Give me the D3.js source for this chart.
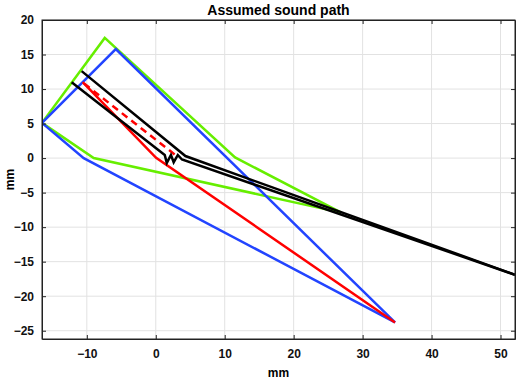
<!DOCTYPE html>
<html>
<head>
<meta charset="utf-8">
<script src="https://cdn.jsdelivr.net/npm/d3@7"></script>
<style>
  body { margin: 0; background: #fff; }
  text { font-family: "Liberation Sans", Arial, sans-serif; font-weight: bold; }
</style>
</head>
<body>
<div id="chart"></div>
<script>
// outline of the transducer beam (green) and wedge (blue)
const greenPath = [[-16.5, 5.1], [-7.4, 17.4], [11.5, 0.1], [26.9, -7.9], [-9.0, 0.0], [-16.5, 5.1]];
const bluePath = [[-16.5, 5.1], [-5.8, 15.8], [34.7, -23.8], [-10.45, 0.0], [-16.5, 5.1]];
// refracted ray
const redPath = [[-10.6, 11.0], [0.05, 0.05], [34.7, -23.8]];
const redDashed = [[-10.4, 10.8], [2.9, 0.4]];
// two black rays, with the small zigzag at the surface
const blackUpper = [[-10.75, 12.6], [4.3, 0.3], [52.1, -16.9]];
const blackLower = [[-12.2, 11.0], [1.3, 0.45], [1.6, -0.7], [2.2, 0.45], [2.6, -0.6], [3.2, 0.45], [3.8, -0.2], [52.1, -16.9]];

const xTicks = [-10, 0, 10, 20, 30, 40, 50];
const yTicks = [-25, -20, -15, -10, -5, 0, 5, 10, 15, 20];

const width = 517, height = 382;
const margin = { top: 20, right: 2, bottom: 43, left: 42 };
const w = width - margin.left - margin.right,
  h = height - margin.top - margin.bottom;

const svg = d3
  .select("#chart")
  .append("svg")
  .attr("width", width)
  .attr("height", height);

const g = svg
  .append("g")
  .attr("transform", "translate(" + margin.left + "," + margin.top + ")");

const x = d3.scaleLinear().domain([-16.5, 52.1]).range([0, w]),
  y = d3.scaleLinear().domain([-26.2, 20]).range([h, 0]);

// grid
g.append("g")
  .selectAll("line")
  .data(xTicks)
  .join("line")
  .attr("x1", d => x(d)).attr("x2", d => x(d))
  .attr("y1", 0).attr("y2", h)
  .attr("stroke", "#e2e2e2");
g.append("g")
  .selectAll("line")
  .data(yTicks)
  .join("line")
  .attr("y1", d => y(d)).attr("y2", d => y(d))
  .attr("x1", 0).attr("x2", w)
  .attr("stroke", "#e2e2e2");

const clip = svg.append("clipPath").attr("id", "clip")
  .append("rect").attr("width", w).attr("height", h);

const line = d3.line().x(d => x(d[0])).y(d => y(d[1]));
const plot = g.append("g").attr("clip-path", "url(#clip)");

function draw(data, color, dash) {
  plot.append("path")
    .datum(data)
    .attr("d", line)
    .attr("fill", "none")
    .attr("stroke", color)
    .attr("stroke-width", 2.5)
    .attr("stroke-linejoin", "miter")
    .attr("stroke-dasharray", dash || null);
}

draw(greenPath, "#66ee00");
draw(bluePath, "#2244ff");
draw(redPath, "#ff0000");
draw(redDashed, "#ff0000", "7,5");
draw(blackUpper, "#000");
draw(blackLower, "#000");

// axes, ticks inside
const xAxis = d3.axisBottom(x).tickValues(xTicks).tickSizeInner(-4).tickSizeOuter(0).tickPadding(10);
const yAxis = d3.axisLeft(y).tickValues(yTicks).tickSizeInner(-4).tickSizeOuter(0).tickPadding(8);

const xa = g.append("g").attr("transform", "translate(0," + h + ")").call(xAxis);
const ya = g.append("g").call(yAxis);
// mirrored ticks on top and right
g.append("g").call(d3.axisTop(x).tickValues(xTicks).tickSizeInner(-4).tickSizeOuter(0).tickFormat(""));
g.append("g").attr("transform", "translate(" + w + ",0)")
  .call(d3.axisRight(y).tickValues(yTicks).tickSizeInner(-4).tickSizeOuter(0).tickFormat(""));

g.selectAll(".domain").attr("stroke", "#222");
g.selectAll(".tick line").attr("stroke", "#222");
g.selectAll(".tick text").style("font-size", "12px").attr("fill", "#111");

g.append("rect")
  .attr("width", w).attr("height", h)
  .attr("fill", "none").attr("stroke", "#222").attr("stroke-width", 1);

// labels
svg.append("text")
  .attr("x", margin.left + w / 2)
  .attr("y", 15)
  .attr("text-anchor", "middle")
  .style("font-size", "14px")
  .text("Assumed sound path");

svg.append("text")
  .attr("x", margin.left + w / 2)
  .attr("y", 377)
  .attr("text-anchor", "middle")
  .style("font-size", "12px")
  .text("mm");

svg.append("text")
  .attr("transform", "translate(14," + (margin.top + h / 2) + ") rotate(-90)")
  .attr("text-anchor", "middle")
  .style("font-size", "12px")
  .text("mm");
</script>
</body>
</html>
